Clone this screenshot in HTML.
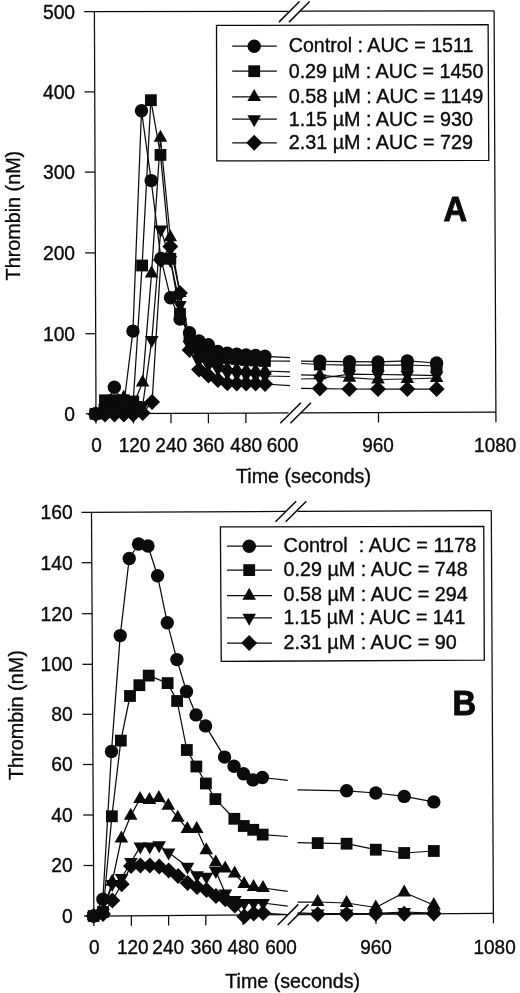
<!DOCTYPE html>
<html><head><meta charset="utf-8"><title>Thrombin generation</title>
<style>html,body{margin:0;padding:0;background:#fff;overflow:hidden;}svg{display:block;}text{font-family:"Liberation Sans",sans-serif;fill:#0b0b0b;stroke:#0b0b0b;stroke-width:0.35px;}svg{will-change:transform;}</style></head><body>
<svg width="520" height="993" viewBox="0 0 520 993">
<rect width="520" height="993" fill="#fff"/>
<line x1="84.20" y1="11.70" x2="288.50" y2="11.26" stroke="#0b0b0b" stroke-width="1.25"/>
<line x1="300.30" y1="11.24" x2="494.10" y2="10.80" stroke="#0b0b0b" stroke-width="1.25"/>
<line x1="96.00" y1="413.60" x2="288.50" y2="412.93" stroke="#0b0b0b" stroke-width="1.25"/>
<line x1="300.30" y1="412.88" x2="495.90" y2="412.20" stroke="#0b0b0b" stroke-width="1.25"/>
<line x1="94.40" y1="11.70" x2="96.04" y2="423.60" stroke="#0b0b0b" stroke-width="1.25"/>
<line x1="494.10" y1="10.80" x2="495.94" y2="422.20" stroke="#0b0b0b" stroke-width="1.25"/>
<line x1="84.52" y1="91.90" x2="94.72" y2="91.90" stroke="#0b0b0b" stroke-width="1.25"/>
<line x1="84.84" y1="172.10" x2="95.04" y2="172.10" stroke="#0b0b0b" stroke-width="1.25"/>
<line x1="85.16" y1="252.90" x2="95.36" y2="252.90" stroke="#0b0b0b" stroke-width="1.25"/>
<line x1="85.48" y1="333.70" x2="95.68" y2="333.70" stroke="#0b0b0b" stroke-width="1.25"/>
<line x1="85.80" y1="413.80" x2="96.00" y2="413.80" stroke="#0b0b0b" stroke-width="1.25"/>
<line x1="133.50" y1="413.47" x2="133.50" y2="423.47" stroke="#0b0b0b" stroke-width="1.25"/>
<line x1="171.00" y1="413.34" x2="171.00" y2="423.34" stroke="#0b0b0b" stroke-width="1.25"/>
<line x1="208.40" y1="413.21" x2="208.40" y2="423.21" stroke="#0b0b0b" stroke-width="1.25"/>
<line x1="245.90" y1="413.08" x2="245.90" y2="423.08" stroke="#0b0b0b" stroke-width="1.25"/>
<line x1="378.50" y1="412.61" x2="378.50" y2="422.61" stroke="#0b0b0b" stroke-width="1.25"/>
<line x1="278.90" y1="22.10" x2="299.50" y2="1.50" stroke="#0b0b0b" stroke-width="1.5"/>
<line x1="289.00" y1="22.10" x2="309.60" y2="1.50" stroke="#0b0b0b" stroke-width="1.5"/>
<line x1="280.30" y1="423.30" x2="300.90" y2="402.70" stroke="#0b0b0b" stroke-width="1.5"/>
<line x1="290.40" y1="423.30" x2="311.00" y2="402.70" stroke="#0b0b0b" stroke-width="1.5"/>
<line x1="81.50" y1="512.30" x2="286.00" y2="511.42" stroke="#0b0b0b" stroke-width="1.25"/>
<line x1="297.50" y1="511.37" x2="491.30" y2="510.50" stroke="#0b0b0b" stroke-width="1.25"/>
<line x1="93.85" y1="916.00" x2="286.00" y2="914.70" stroke="#0b0b0b" stroke-width="1.25"/>
<line x1="297.50" y1="914.62" x2="493.40" y2="913.30" stroke="#0b0b0b" stroke-width="1.25"/>
<line x1="91.50" y1="512.30" x2="93.91" y2="926.00" stroke="#0b0b0b" stroke-width="1.25"/>
<line x1="491.30" y1="510.50" x2="493.45" y2="923.30" stroke="#0b0b0b" stroke-width="1.25"/>
<line x1="81.79" y1="562.70" x2="91.79" y2="562.70" stroke="#0b0b0b" stroke-width="1.25"/>
<line x1="82.09" y1="613.70" x2="92.09" y2="613.70" stroke="#0b0b0b" stroke-width="1.25"/>
<line x1="82.38" y1="664.30" x2="92.38" y2="664.30" stroke="#0b0b0b" stroke-width="1.25"/>
<line x1="82.68" y1="714.30" x2="92.68" y2="714.30" stroke="#0b0b0b" stroke-width="1.25"/>
<line x1="82.97" y1="764.50" x2="92.97" y2="764.50" stroke="#0b0b0b" stroke-width="1.25"/>
<line x1="83.26" y1="815.00" x2="93.26" y2="815.00" stroke="#0b0b0b" stroke-width="1.25"/>
<line x1="83.56" y1="865.50" x2="93.56" y2="865.50" stroke="#0b0b0b" stroke-width="1.25"/>
<line x1="83.85" y1="916.00" x2="93.85" y2="916.00" stroke="#0b0b0b" stroke-width="1.25"/>
<line x1="131.40" y1="915.75" x2="131.40" y2="925.75" stroke="#0b0b0b" stroke-width="1.25"/>
<line x1="168.60" y1="915.49" x2="168.60" y2="925.49" stroke="#0b0b0b" stroke-width="1.25"/>
<line x1="205.80" y1="915.24" x2="205.80" y2="925.24" stroke="#0b0b0b" stroke-width="1.25"/>
<line x1="243.00" y1="914.99" x2="243.00" y2="924.99" stroke="#0b0b0b" stroke-width="1.25"/>
<line x1="376.00" y1="914.09" x2="376.00" y2="924.09" stroke="#0b0b0b" stroke-width="1.25"/>
<line x1="275.50" y1="521.80" x2="296.10" y2="501.20" stroke="#0b0b0b" stroke-width="1.5"/>
<line x1="285.70" y1="521.80" x2="306.30" y2="501.20" stroke="#0b0b0b" stroke-width="1.5"/>
<line x1="277.70" y1="925.00" x2="298.30" y2="904.40" stroke="#0b0b0b" stroke-width="1.5"/>
<line x1="287.80" y1="925.00" x2="308.40" y2="904.40" stroke="#0b0b0b" stroke-width="1.5"/>
<rect x="100" y="401" width="42" height="11" fill="#0b0b0b"/>
<polyline points="95.60,413.80 104.99,407.00 114.33,387.30 123.82,405.00 132.95,331.10 141.49,110.80 151.19,180.60 160.92,258.50 170.50,297.70 180.00,319.00 189.48,332.80 198.93,341.00 208.36,344.70 217.81,351.50 227.24,353.30 236.66,354.20 246.08,355.00 255.51,355.50 264.93,356.30 290.00,357.60" fill="none" stroke="#0b0b0b" stroke-width="1.25" stroke-linejoin="round"/>
<polyline points="301.00,361.20 319.80,361.30 349.40,361.70 378.00,361.90 407.30,360.90 436.60,363.00" fill="none" stroke="#0b0b0b" stroke-width="1.25" stroke-linejoin="round"/>
<polyline points="95.60,413.80 104.97,400.30 114.39,400.20 123.81,400.30 133.23,401.50 142.11,265.50 150.87,100.20 160.50,154.90 170.34,258.80 179.98,314.00 189.49,337.00 198.95,347.00 208.39,351.00 217.83,356.00 227.26,358.00 236.68,359.00 246.10,360.00 255.53,360.50 264.95,361.00 290.00,361.20" fill="none" stroke="#0b0b0b" stroke-width="1.25" stroke-linejoin="round"/>
<polyline points="301.00,363.50 319.80,364.50 349.40,365.20 378.00,365.20 407.30,365.00 436.60,366.00" fill="none" stroke="#0b0b0b" stroke-width="1.25" stroke-linejoin="round"/>
<polyline points="95.60,413.80 104.99,406.00 114.40,405.00 123.80,397.70 133.24,405.00 142.58,382.60 151.56,273.40 160.44,137.80 170.25,237.30 179.90,293.00 189.50,338.00 198.98,353.00 208.42,358.00 217.86,363.00 227.30,368.00 236.72,369.00 246.14,370.00 255.57,370.50 264.99,371.00 290.00,371.80" fill="none" stroke="#0b0b0b" stroke-width="1.25" stroke-linejoin="round"/>
<polyline points="301.00,374.80 319.80,375.30 349.40,377.70 378.00,379.50 407.30,379.00 436.60,378.00" fill="none" stroke="#0b0b0b" stroke-width="1.25" stroke-linejoin="round"/>
<polyline points="95.60,413.80 105.00,408.00 114.41,407.50 123.83,407.00 133.25,406.00 142.67,405.50 151.82,340.00 160.80,229.40 170.34,260.00 179.94,305.00 189.52,345.00 199.00,360.00 208.44,365.00 217.88,369.00 227.32,373.00 236.74,374.00 246.16,375.00 255.59,375.50 265.01,376.00 290.00,376.50" fill="none" stroke="#0b0b0b" stroke-width="1.25" stroke-linejoin="round"/>
<polyline points="301.00,379.00 319.80,378.50 349.40,374.20 378.00,374.50 407.30,374.80 436.60,375.60" fill="none" stroke="#0b0b0b" stroke-width="1.25" stroke-linejoin="round"/>
<polyline points="95.60,414.30 105.02,414.50 114.44,414.50 123.86,414.50 133.28,414.50 142.70,413.00 152.07,402.00 160.92,260.00 170.29,246.40 179.90,293.00 189.54,350.00 199.04,369.50 208.49,375.50 217.92,380.00 227.36,383.20 236.78,383.50 246.20,383.50 255.62,383.50 265.04,384.00 290.00,385.70" fill="none" stroke="#0b0b0b" stroke-width="1.25" stroke-linejoin="round"/>
<polyline points="301.00,388.40 319.80,388.50 349.40,389.00 378.00,389.00 407.30,389.00 436.60,389.00" fill="none" stroke="#0b0b0b" stroke-width="1.25" stroke-linejoin="round"/>
<g fill="#0b0b0b">
<circle cx="95.60" cy="413.80" r="6.7"/>
<circle cx="104.99" cy="407.00" r="6.7"/>
<circle cx="114.33" cy="387.30" r="6.7"/>
<circle cx="123.82" cy="405.00" r="6.7"/>
<circle cx="132.95" cy="331.10" r="6.7"/>
<circle cx="141.49" cy="110.80" r="6.7"/>
<circle cx="151.19" cy="180.60" r="6.7"/>
<circle cx="160.92" cy="258.50" r="6.7"/>
<circle cx="170.50" cy="297.70" r="6.7"/>
<circle cx="180.00" cy="319.00" r="6.7"/>
<circle cx="189.48" cy="332.80" r="6.7"/>
<circle cx="198.93" cy="341.00" r="6.7"/>
<circle cx="208.36" cy="344.70" r="6.7"/>
<circle cx="217.81" cy="351.50" r="6.7"/>
<circle cx="227.24" cy="353.30" r="6.7"/>
<circle cx="236.66" cy="354.20" r="6.7"/>
<circle cx="246.08" cy="355.00" r="6.7"/>
<circle cx="255.51" cy="355.50" r="6.7"/>
<circle cx="264.93" cy="356.30" r="6.7"/>
<circle cx="319.80" cy="361.30" r="6.7"/>
<circle cx="349.40" cy="361.70" r="6.7"/>
<circle cx="378.00" cy="361.90" r="6.7"/>
<circle cx="407.30" cy="360.90" r="6.7"/>
<circle cx="436.60" cy="363.00" r="6.7"/>
<rect x="89.70" y="407.90" width="11.8" height="11.8"/>
<rect x="99.07" y="394.40" width="11.8" height="11.8"/>
<rect x="108.49" y="394.30" width="11.8" height="11.8"/>
<rect x="117.91" y="394.40" width="11.8" height="11.8"/>
<rect x="127.33" y="395.60" width="11.8" height="11.8"/>
<rect x="136.21" y="259.60" width="11.8" height="11.8"/>
<rect x="144.97" y="94.30" width="11.8" height="11.8"/>
<rect x="154.60" y="149.00" width="11.8" height="11.8"/>
<rect x="164.44" y="252.90" width="11.8" height="11.8"/>
<rect x="174.08" y="308.10" width="11.8" height="11.8"/>
<rect x="183.59" y="331.10" width="11.8" height="11.8"/>
<rect x="193.05" y="341.10" width="11.8" height="11.8"/>
<rect x="202.49" y="345.10" width="11.8" height="11.8"/>
<rect x="211.93" y="350.10" width="11.8" height="11.8"/>
<rect x="221.36" y="352.10" width="11.8" height="11.8"/>
<rect x="230.78" y="353.10" width="11.8" height="11.8"/>
<rect x="240.20" y="354.10" width="11.8" height="11.8"/>
<rect x="249.63" y="354.60" width="11.8" height="11.8"/>
<rect x="259.05" y="355.10" width="11.8" height="11.8"/>
<rect x="313.90" y="358.60" width="11.8" height="11.8"/>
<rect x="343.50" y="359.30" width="11.8" height="11.8"/>
<rect x="372.10" y="359.30" width="11.8" height="11.8"/>
<rect x="401.40" y="359.10" width="11.8" height="11.8"/>
<rect x="430.70" y="360.10" width="11.8" height="11.8"/>
<polygon points="95.60,405.80 102.40,417.80 88.80,417.80"/>
<polygon points="104.99,398.00 111.79,410.00 98.19,410.00"/>
<polygon points="114.40,397.00 121.20,409.00 107.60,409.00"/>
<polygon points="123.80,389.70 130.60,401.70 117.00,401.70"/>
<polygon points="133.24,397.00 140.04,409.00 126.44,409.00"/>
<polygon points="142.58,374.60 149.38,386.60 135.78,386.60"/>
<polygon points="151.56,265.40 158.36,277.40 144.76,277.40"/>
<polygon points="160.44,129.80 167.24,141.80 153.64,141.80"/>
<polygon points="170.25,229.30 177.05,241.30 163.45,241.30"/>
<polygon points="179.90,285.00 186.70,297.00 173.10,297.00"/>
<polygon points="189.50,330.00 196.30,342.00 182.70,342.00"/>
<polygon points="198.98,345.00 205.78,357.00 192.18,357.00"/>
<polygon points="208.42,350.00 215.22,362.00 201.62,362.00"/>
<polygon points="217.86,355.00 224.66,367.00 211.06,367.00"/>
<polygon points="227.30,360.00 234.10,372.00 220.50,372.00"/>
<polygon points="236.72,361.00 243.52,373.00 229.92,373.00"/>
<polygon points="246.14,362.00 252.94,374.00 239.34,374.00"/>
<polygon points="255.57,362.50 262.37,374.50 248.77,374.50"/>
<polygon points="264.99,363.00 271.79,375.00 258.19,375.00"/>
<polygon points="319.80,367.30 326.60,379.30 313.00,379.30"/>
<polygon points="349.40,369.70 356.20,381.70 342.60,381.70"/>
<polygon points="378.00,371.50 384.80,383.50 371.20,383.50"/>
<polygon points="407.30,371.00 414.10,383.00 400.50,383.00"/>
<polygon points="436.60,370.00 443.40,382.00 429.80,382.00"/>
<polygon points="88.80,409.80 102.40,409.80 95.60,421.80"/>
<polygon points="98.20,404.00 111.80,404.00 105.00,416.00"/>
<polygon points="107.61,403.50 121.21,403.50 114.41,415.50"/>
<polygon points="117.03,403.00 130.63,403.00 123.83,415.00"/>
<polygon points="126.45,402.00 140.05,402.00 133.25,414.00"/>
<polygon points="135.87,401.50 149.47,401.50 142.67,413.50"/>
<polygon points="145.02,336.00 158.62,336.00 151.82,348.00"/>
<polygon points="154.00,225.40 167.60,225.40 160.80,237.40"/>
<polygon points="163.54,256.00 177.14,256.00 170.34,268.00"/>
<polygon points="173.14,301.00 186.74,301.00 179.94,313.00"/>
<polygon points="182.72,341.00 196.32,341.00 189.52,353.00"/>
<polygon points="192.20,356.00 205.80,356.00 199.00,368.00"/>
<polygon points="201.64,361.00 215.24,361.00 208.44,373.00"/>
<polygon points="211.08,365.00 224.68,365.00 217.88,377.00"/>
<polygon points="220.52,369.00 234.12,369.00 227.32,381.00"/>
<polygon points="229.94,370.00 243.54,370.00 236.74,382.00"/>
<polygon points="239.36,371.00 252.96,371.00 246.16,383.00"/>
<polygon points="248.79,371.50 262.39,371.50 255.59,383.50"/>
<polygon points="258.21,372.00 271.81,372.00 265.01,384.00"/>
<polygon points="313.00,374.50 326.60,374.50 319.80,386.50"/>
<polygon points="342.60,370.20 356.20,370.20 349.40,382.20"/>
<polygon points="371.20,370.50 384.80,370.50 378.00,382.50"/>
<polygon points="400.50,370.80 414.10,370.80 407.30,382.80"/>
<polygon points="429.80,371.60 443.40,371.60 436.60,383.60"/>
<polygon points="95.60,406.30 103.60,414.30 95.60,422.30 87.60,414.30"/>
<polygon points="105.02,406.50 113.02,414.50 105.02,422.50 97.02,414.50"/>
<polygon points="114.44,406.50 122.44,414.50 114.44,422.50 106.44,414.50"/>
<polygon points="123.86,406.50 131.86,414.50 123.86,422.50 115.86,414.50"/>
<polygon points="133.28,406.50 141.28,414.50 133.28,422.50 125.28,414.50"/>
<polygon points="142.70,405.00 150.70,413.00 142.70,421.00 134.70,413.00"/>
<polygon points="152.07,394.00 160.07,402.00 152.07,410.00 144.07,402.00"/>
<polygon points="160.92,252.00 168.92,260.00 160.92,268.00 152.92,260.00"/>
<polygon points="170.29,238.40 178.29,246.40 170.29,254.40 162.29,246.40"/>
<polygon points="179.90,285.00 187.90,293.00 179.90,301.00 171.90,293.00"/>
<polygon points="189.54,342.00 197.54,350.00 189.54,358.00 181.54,350.00"/>
<polygon points="199.04,361.50 207.04,369.50 199.04,377.50 191.04,369.50"/>
<polygon points="208.49,367.50 216.49,375.50 208.49,383.50 200.49,375.50"/>
<polygon points="217.92,372.00 225.92,380.00 217.92,388.00 209.92,380.00"/>
<polygon points="227.36,375.20 235.36,383.20 227.36,391.20 219.36,383.20"/>
<polygon points="236.78,375.50 244.78,383.50 236.78,391.50 228.78,383.50"/>
<polygon points="246.20,375.50 254.20,383.50 246.20,391.50 238.20,383.50"/>
<polygon points="255.62,375.50 263.62,383.50 255.62,391.50 247.62,383.50"/>
<polygon points="265.04,376.00 273.04,384.00 265.04,392.00 257.04,384.00"/>
<polygon points="319.80,380.50 327.80,388.50 319.80,396.50 311.80,388.50"/>
<polygon points="349.40,381.00 357.40,389.00 349.40,397.00 341.40,389.00"/>
<polygon points="378.00,381.00 386.00,389.00 378.00,397.00 370.00,389.00"/>
<polygon points="407.30,381.00 415.30,389.00 407.30,397.00 399.30,389.00"/>
<polygon points="436.60,381.00 444.60,389.00 436.60,397.00 428.60,389.00"/>
</g>
<polyline points="93.60,916.00 102.92,899.30 111.49,751.50 120.23,635.60 129.21,558.50 138.54,544.00 147.97,546.00 157.57,575.80 167.26,622.70 176.89,659.60 186.50,691.50 196.05,714.90 205.54,725.90 224.56,757.10 234.03,766.30 243.49,773.70 252.95,779.90 262.36,777.50 287.70,780.30" fill="none" stroke="#0b0b0b" stroke-width="1.25" stroke-linejoin="round"/>
<polyline points="297.50,789.80 346.60,790.80 375.80,793.00 404.20,796.40 433.80,801.90" fill="none" stroke="#0b0b0b" stroke-width="1.25" stroke-linejoin="round"/>
<polyline points="93.60,916.00 103.00,912.00 111.86,816.30 120.84,740.60 130.00,696.00 139.36,685.20 148.73,675.60 167.61,683.10 177.13,701.00 186.84,750.00 196.35,766.50 205.87,783.50 215.38,799.10 234.34,818.80 243.80,826.00 253.24,829.80 262.69,834.60 287.70,836.50" fill="none" stroke="#0b0b0b" stroke-width="1.25" stroke-linejoin="round"/>
<polyline points="297.50,842.70 317.70,843.10 346.60,843.70 375.80,849.70 404.20,853.00 433.80,851.00" fill="none" stroke="#0b0b0b" stroke-width="1.25" stroke-linejoin="round"/>
<polyline points="93.60,916.00 103.00,912.50 112.24,881.70 121.41,838.50 130.70,815.80 140.02,798.90 149.45,800.00 158.86,798.00 168.32,805.80 177.81,817.70 187.30,829.00 196.72,829.00 206.26,850.30 215.75,862.50 225.20,868.50 234.65,873.50 244.13,884.00 253.57,887.00 263.00,888.00 287.70,891.30" fill="none" stroke="#0b0b0b" stroke-width="1.25" stroke-linejoin="round"/>
<polyline points="297.50,902.00 317.70,902.00 346.60,903.00 375.80,907.50 404.20,892.50 433.80,905.00" fill="none" stroke="#0b0b0b" stroke-width="1.25" stroke-linejoin="round"/>
<polyline points="93.60,916.00 103.00,913.00 112.25,884.00 121.64,878.00 130.97,862.00 140.30,846.60 149.72,846.60 159.13,845.20 168.59,852.40 187.51,866.80 196.98,875.30 206.41,876.80 215.80,871.00 225.35,893.50 234.81,900.00 244.24,903.00 253.66,903.00 263.08,903.00 287.70,906.20" fill="none" stroke="#0b0b0b" stroke-width="1.25" stroke-linejoin="round"/>
<polyline points="297.50,912.80 317.70,913.60 346.60,913.60 375.80,913.40 404.20,912.00 433.80,913.20" fill="none" stroke="#0b0b0b" stroke-width="1.25" stroke-linejoin="round"/>
<polyline points="93.60,916.00 103.01,914.00 112.35,900.50 121.68,884.20 130.99,866.00 140.41,865.40 149.83,865.40 159.25,866.40 168.70,870.50 178.15,876.00 187.61,883.00 197.05,887.00 206.49,890.00 215.94,896.00 225.38,899.20 234.84,905.40 244.32,916.40 253.73,913.50 263.14,913.00 287.70,914.60" fill="none" stroke="#0b0b0b" stroke-width="1.25" stroke-linejoin="round"/>
<polyline points="297.50,914.20 317.70,914.20 346.60,914.00 375.80,913.80 404.20,913.70 433.80,913.60" fill="none" stroke="#0b0b0b" stroke-width="1.25" stroke-linejoin="round"/>
<g fill="#0b0b0b">
<circle cx="93.60" cy="916.00" r="6.7"/>
<circle cx="102.92" cy="899.30" r="6.7"/>
<circle cx="111.49" cy="751.50" r="6.7"/>
<circle cx="120.23" cy="635.60" r="6.7"/>
<circle cx="129.21" cy="558.50" r="6.7"/>
<circle cx="138.54" cy="544.00" r="6.7"/>
<circle cx="147.97" cy="546.00" r="6.7"/>
<circle cx="157.57" cy="575.80" r="6.7"/>
<circle cx="167.26" cy="622.70" r="6.7"/>
<circle cx="176.89" cy="659.60" r="6.7"/>
<circle cx="186.50" cy="691.50" r="6.7"/>
<circle cx="196.05" cy="714.90" r="6.7"/>
<circle cx="205.54" cy="725.90" r="6.7"/>
<circle cx="224.56" cy="757.10" r="6.7"/>
<circle cx="234.03" cy="766.30" r="6.7"/>
<circle cx="243.49" cy="773.70" r="6.7"/>
<circle cx="252.95" cy="779.90" r="6.7"/>
<circle cx="262.36" cy="777.50" r="6.7"/>
<circle cx="346.60" cy="790.80" r="6.7"/>
<circle cx="375.80" cy="793.00" r="6.7"/>
<circle cx="404.20" cy="796.40" r="6.7"/>
<circle cx="433.80" cy="801.90" r="6.7"/>
<rect x="87.70" y="910.10" width="11.8" height="11.8"/>
<rect x="97.10" y="906.10" width="11.8" height="11.8"/>
<rect x="105.96" y="810.40" width="11.8" height="11.8"/>
<rect x="114.94" y="734.70" width="11.8" height="11.8"/>
<rect x="124.10" y="690.10" width="11.8" height="11.8"/>
<rect x="133.46" y="679.30" width="11.8" height="11.8"/>
<rect x="142.83" y="669.70" width="11.8" height="11.8"/>
<rect x="161.71" y="677.20" width="11.8" height="11.8"/>
<rect x="171.23" y="695.10" width="11.8" height="11.8"/>
<rect x="180.94" y="744.10" width="11.8" height="11.8"/>
<rect x="190.45" y="760.60" width="11.8" height="11.8"/>
<rect x="199.97" y="777.60" width="11.8" height="11.8"/>
<rect x="209.48" y="793.20" width="11.8" height="11.8"/>
<rect x="228.44" y="812.90" width="11.8" height="11.8"/>
<rect x="237.90" y="820.10" width="11.8" height="11.8"/>
<rect x="247.34" y="823.90" width="11.8" height="11.8"/>
<rect x="256.79" y="828.70" width="11.8" height="11.8"/>
<rect x="311.80" y="837.20" width="11.8" height="11.8"/>
<rect x="340.70" y="837.80" width="11.8" height="11.8"/>
<rect x="369.90" y="843.80" width="11.8" height="11.8"/>
<rect x="398.30" y="847.10" width="11.8" height="11.8"/>
<rect x="427.90" y="845.10" width="11.8" height="11.8"/>
<polygon points="93.60,908.00 100.40,920.00 86.80,920.00"/>
<polygon points="103.00,904.50 109.80,916.50 96.20,916.50"/>
<polygon points="112.24,873.70 119.04,885.70 105.44,885.70"/>
<polygon points="121.41,830.50 128.21,842.50 114.61,842.50"/>
<polygon points="130.70,807.80 137.50,819.80 123.90,819.80"/>
<polygon points="140.02,790.90 146.82,802.90 133.22,802.90"/>
<polygon points="149.45,792.00 156.25,804.00 142.65,804.00"/>
<polygon points="158.86,790.00 165.66,802.00 152.06,802.00"/>
<polygon points="168.32,797.80 175.12,809.80 161.52,809.80"/>
<polygon points="177.81,809.70 184.61,821.70 171.01,821.70"/>
<polygon points="187.30,821.00 194.10,833.00 180.50,833.00"/>
<polygon points="196.72,821.00 203.52,833.00 189.92,833.00"/>
<polygon points="206.26,842.30 213.06,854.30 199.46,854.30"/>
<polygon points="215.75,854.50 222.55,866.50 208.95,866.50"/>
<polygon points="225.20,860.50 232.00,872.50 218.40,872.50"/>
<polygon points="234.65,865.50 241.45,877.50 227.85,877.50"/>
<polygon points="244.13,876.00 250.93,888.00 237.33,888.00"/>
<polygon points="253.57,879.00 260.37,891.00 246.77,891.00"/>
<polygon points="263.00,880.00 269.80,892.00 256.20,892.00"/>
<polygon points="317.70,894.00 324.50,906.00 310.90,906.00"/>
<polygon points="346.60,895.00 353.40,907.00 339.80,907.00"/>
<polygon points="375.80,899.50 382.60,911.50 369.00,911.50"/>
<polygon points="404.20,884.50 411.00,896.50 397.40,896.50"/>
<polygon points="433.80,897.00 440.60,909.00 427.00,909.00"/>
<polygon points="86.80,912.00 100.40,912.00 93.60,924.00"/>
<polygon points="96.20,909.00 109.80,909.00 103.00,921.00"/>
<polygon points="105.45,880.00 119.05,880.00 112.25,892.00"/>
<polygon points="114.84,874.00 128.44,874.00 121.64,886.00"/>
<polygon points="124.17,858.00 137.77,858.00 130.97,870.00"/>
<polygon points="133.50,842.60 147.10,842.60 140.30,854.60"/>
<polygon points="142.92,842.60 156.52,842.60 149.72,854.60"/>
<polygon points="152.33,841.20 165.93,841.20 159.13,853.20"/>
<polygon points="161.79,848.40 175.39,848.40 168.59,860.40"/>
<polygon points="180.71,862.80 194.31,862.80 187.51,874.80"/>
<polygon points="190.18,871.30 203.78,871.30 196.98,883.30"/>
<polygon points="199.61,872.80 213.21,872.80 206.41,884.80"/>
<polygon points="209.00,867.00 222.60,867.00 215.80,879.00"/>
<polygon points="218.55,889.50 232.15,889.50 225.35,901.50"/>
<polygon points="228.01,896.00 241.61,896.00 234.81,908.00"/>
<polygon points="237.44,899.00 251.04,899.00 244.24,911.00"/>
<polygon points="246.86,899.00 260.46,899.00 253.66,911.00"/>
<polygon points="256.28,899.00 269.88,899.00 263.08,911.00"/>
<polygon points="310.90,909.60 324.50,909.60 317.70,921.60"/>
<polygon points="339.80,909.60 353.40,909.60 346.60,921.60"/>
<polygon points="369.00,909.40 382.60,909.40 375.80,921.40"/>
<polygon points="397.40,908.00 411.00,908.00 404.20,920.00"/>
<polygon points="427.00,909.20 440.60,909.20 433.80,921.20"/>
<polygon points="93.60,908.00 101.60,916.00 93.60,924.00 85.60,916.00"/>
<polygon points="103.01,906.00 111.01,914.00 103.01,922.00 95.01,914.00"/>
<polygon points="112.35,892.50 120.35,900.50 112.35,908.50 104.35,900.50"/>
<polygon points="121.68,876.20 129.68,884.20 121.68,892.20 113.68,884.20"/>
<polygon points="130.99,858.00 138.99,866.00 130.99,874.00 122.99,866.00"/>
<polygon points="140.41,857.40 148.41,865.40 140.41,873.40 132.41,865.40"/>
<polygon points="149.83,857.40 157.83,865.40 149.83,873.40 141.83,865.40"/>
<polygon points="159.25,858.40 167.25,866.40 159.25,874.40 151.25,866.40"/>
<polygon points="168.70,862.50 176.70,870.50 168.70,878.50 160.70,870.50"/>
<polygon points="178.15,868.00 186.15,876.00 178.15,884.00 170.15,876.00"/>
<polygon points="187.61,875.00 195.61,883.00 187.61,891.00 179.61,883.00"/>
<polygon points="197.05,879.00 205.05,887.00 197.05,895.00 189.05,887.00"/>
<polygon points="206.49,882.00 214.49,890.00 206.49,898.00 198.49,890.00"/>
<polygon points="215.94,888.00 223.94,896.00 215.94,904.00 207.94,896.00"/>
<polygon points="225.38,891.20 233.38,899.20 225.38,907.20 217.38,899.20"/>
<polygon points="234.84,897.40 242.84,905.40 234.84,913.40 226.84,905.40"/>
<polygon points="244.32,908.40 252.32,916.40 244.32,924.40 236.32,916.40"/>
<polygon points="253.73,905.50 261.73,913.50 253.73,921.50 245.73,913.50"/>
<polygon points="263.14,905.00 271.14,913.00 263.14,921.00 255.14,913.00"/>
<polygon points="317.70,906.20 325.70,914.20 317.70,922.20 309.70,914.20"/>
<polygon points="346.60,906.00 354.60,914.00 346.60,922.00 338.60,914.00"/>
<polygon points="375.80,905.80 383.80,913.80 375.80,921.80 367.80,913.80"/>
<polygon points="404.20,905.70 412.20,913.70 404.20,921.70 396.20,913.70"/>
<polygon points="433.80,905.60 441.80,913.60 433.80,921.60 425.80,913.60"/>
</g>
<polygon points="216.5,25.4 488.1,24.6 488.8,160.3 216.8,160.9" fill="#fff" stroke="#0b0b0b" stroke-width="1.3" stroke-linejoin="miter"/>
<line x1="232.20" y1="46.20" x2="276.80" y2="46.20" stroke="#0b0b0b" stroke-width="1.25"/>
<g fill="#0b0b0b"><circle cx="254.20" cy="46.20" r="6.7"/></g>
<line x1="232.20" y1="71.20" x2="276.80" y2="71.20" stroke="#0b0b0b" stroke-width="1.25"/>
<g fill="#0b0b0b"><rect x="248.30" y="65.30" width="11.8" height="11.8"/></g>
<line x1="232.20" y1="96.90" x2="276.80" y2="96.90" stroke="#0b0b0b" stroke-width="1.25"/>
<g fill="#0b0b0b"><polygon points="254.20,88.90 261.00,100.90 247.40,100.90"/></g>
<line x1="232.20" y1="119.20" x2="276.80" y2="119.20" stroke="#0b0b0b" stroke-width="1.25"/>
<g fill="#0b0b0b"><polygon points="247.40,115.20 261.00,115.20 254.20,127.20"/></g>
<line x1="232.20" y1="142.80" x2="276.80" y2="142.80" stroke="#0b0b0b" stroke-width="1.25"/>
<g fill="#0b0b0b"><polygon points="254.20,134.80 262.20,142.80 254.20,150.80 246.20,142.80"/></g>
<text x="0" y="0" transform="translate(288.70 52.20) scale(1 1.07)" font-size="19" textLength="184.7" lengthAdjust="spacingAndGlyphs">Control : AUC = 1511</text>
<text x="0" y="0" transform="translate(288.70 77.60) scale(1 1.07)" font-size="19" textLength="194.7" lengthAdjust="spacingAndGlyphs">0.29 µM : AUC = 1450</text>
<text x="0" y="0" transform="translate(288.70 102.60) scale(1 1.07)" font-size="19" textLength="194.7" lengthAdjust="spacingAndGlyphs">0.58 µM : AUC = 1149</text>
<text x="0" y="0" transform="translate(288.70 126.10) scale(1 1.07)" font-size="19" textLength="184.3" lengthAdjust="spacingAndGlyphs">1.15 µM : AUC = 930</text>
<text x="0" y="0" transform="translate(288.70 148.80) scale(1 1.07)" font-size="19" textLength="184.3" lengthAdjust="spacingAndGlyphs">2.31 µM : AUC = 729</text>
<polygon points="220.4,526.9 483.75,526.3 484.3,660.2 221.25,661.4" fill="#fff" stroke="#0b0b0b" stroke-width="1.3" stroke-linejoin="miter"/>
<line x1="227.00" y1="546.20" x2="271.90" y2="546.20" stroke="#0b0b0b" stroke-width="1.25"/>
<g fill="#0b0b0b"><circle cx="249.20" cy="546.20" r="6.7"/></g>
<line x1="227.00" y1="570.10" x2="271.90" y2="570.10" stroke="#0b0b0b" stroke-width="1.25"/>
<g fill="#0b0b0b"><rect x="243.30" y="564.20" width="11.8" height="11.8"/></g>
<line x1="227.00" y1="595.70" x2="271.90" y2="595.70" stroke="#0b0b0b" stroke-width="1.25"/>
<g fill="#0b0b0b"><polygon points="249.20,587.70 256.00,599.70 242.40,599.70"/></g>
<line x1="227.00" y1="617.80" x2="271.90" y2="617.80" stroke="#0b0b0b" stroke-width="1.25"/>
<g fill="#0b0b0b"><polygon points="242.40,613.80 256.00,613.80 249.20,625.80"/></g>
<line x1="227.00" y1="643.10" x2="271.90" y2="643.10" stroke="#0b0b0b" stroke-width="1.25"/>
<g fill="#0b0b0b"><polygon points="249.20,635.10 257.20,643.10 249.20,651.10 241.20,643.10"/></g>
<text x="0" y="0" transform="translate(283.50 552.20) scale(1 1.07)" font-size="19" textLength="192.8" lengthAdjust="spacingAndGlyphs">Control&#160;&#160;: AUC = 1178</text>
<text x="0" y="0" transform="translate(283.50 576.40) scale(1 1.07)" font-size="19" textLength="184.3" lengthAdjust="spacingAndGlyphs">0.29 µM : AUC = 748</text>
<text x="0" y="0" transform="translate(283.50 601.30) scale(1 1.07)" font-size="19" textLength="184.3" lengthAdjust="spacingAndGlyphs">0.58 µM : AUC = 294</text>
<text x="0" y="0" transform="translate(283.50 624.00) scale(1 1.07)" font-size="19" textLength="181.8" lengthAdjust="spacingAndGlyphs">1.15 µM : AUC = 141</text>
<text x="0" y="0" transform="translate(283.50 648.90) scale(1 1.07)" font-size="19" textLength="173.1" lengthAdjust="spacingAndGlyphs">2.31 µM : AUC = 90</text>
<text x="0" y="0" transform="translate(75.10 18.60) scale(1 1.06)" font-size="19.3" text-anchor="end">500</text>
<text x="0" y="0" transform="translate(75.10 98.80) scale(1 1.06)" font-size="19.3" text-anchor="end">400</text>
<text x="0" y="0" transform="translate(75.10 179.00) scale(1 1.06)" font-size="19.3" text-anchor="end">300</text>
<text x="0" y="0" transform="translate(75.10 259.80) scale(1 1.06)" font-size="19.3" text-anchor="end">200</text>
<text x="0" y="0" transform="translate(75.10 340.60) scale(1 1.06)" font-size="19.3" text-anchor="end">100</text>
<text x="0" y="0" transform="translate(75.10 420.70) scale(1 1.06)" font-size="19.3" text-anchor="end">0</text>
<text x="0" y="0" transform="translate(72.70 519.30) scale(1 1.06)" font-size="19.3" text-anchor="end">160</text>
<text x="0" y="0" transform="translate(72.70 569.60) scale(1 1.06)" font-size="19.3" text-anchor="end">140</text>
<text x="0" y="0" transform="translate(72.70 620.60) scale(1 1.06)" font-size="19.3" text-anchor="end">120</text>
<text x="0" y="0" transform="translate(72.70 671.20) scale(1 1.06)" font-size="19.3" text-anchor="end">100</text>
<text x="0" y="0" transform="translate(72.70 721.20) scale(1 1.06)" font-size="19.3" text-anchor="end">80</text>
<text x="0" y="0" transform="translate(72.70 771.40) scale(1 1.06)" font-size="19.3" text-anchor="end">60</text>
<text x="0" y="0" transform="translate(72.70 821.90) scale(1 1.06)" font-size="19.3" text-anchor="end">40</text>
<text x="0" y="0" transform="translate(72.70 872.40) scale(1 1.06)" font-size="19.3" text-anchor="end">20</text>
<text x="0" y="0" transform="translate(72.70 922.90) scale(1 1.06)" font-size="19.3" text-anchor="end">0</text>
<text x="0" y="0" transform="translate(96.50 451.60) scale(1 1.07)" font-size="19" text-anchor="middle">0</text>
<text x="0" y="0" transform="translate(134.50 451.60) scale(1 1.07)" font-size="19" text-anchor="middle">120</text>
<text x="0" y="0" transform="translate(171.20 451.60) scale(1 1.07)" font-size="19" text-anchor="middle">240</text>
<text x="0" y="0" transform="translate(208.50 451.60) scale(1 1.07)" font-size="19" text-anchor="middle">360</text>
<text x="0" y="0" transform="translate(246.20 451.60) scale(1 1.07)" font-size="19" text-anchor="middle">480</text>
<text x="0" y="0" transform="translate(282.50 451.60) scale(1 1.07)" font-size="19" text-anchor="middle">600</text>
<text x="0" y="0" transform="translate(378.00 451.60) scale(1 1.07)" font-size="19" text-anchor="middle">960</text>
<text x="0" y="0" transform="translate(495.20 451.60) scale(1 1.07)" font-size="19" text-anchor="middle">1080</text>
<text x="0" y="0" transform="translate(94.30 954.00) scale(1 1.07)" font-size="19" text-anchor="middle">0</text>
<text x="0" y="0" transform="translate(132.80 954.00) scale(1 1.07)" font-size="19" text-anchor="middle">120</text>
<text x="0" y="0" transform="translate(168.20 954.00) scale(1 1.07)" font-size="19" text-anchor="middle">240</text>
<text x="0" y="0" transform="translate(206.50 954.00) scale(1 1.07)" font-size="19" text-anchor="middle">360</text>
<text x="0" y="0" transform="translate(243.30 954.00) scale(1 1.07)" font-size="19" text-anchor="middle">480</text>
<text x="0" y="0" transform="translate(281.00 954.00) scale(1 1.07)" font-size="19" text-anchor="middle">600</text>
<text x="0" y="0" transform="translate(376.00 954.00) scale(1 1.07)" font-size="19" text-anchor="middle">960</text>
<text x="0" y="0" transform="translate(494.60 954.00) scale(1 1.07)" font-size="19" text-anchor="middle">1080</text>
<text x="236.00" y="482.90" font-size="19.4" textLength="135.0" lengthAdjust="spacingAndGlyphs">Time (seconds)</text>
<text x="225.30" y="988.00" font-size="19.4" textLength="134.8" lengthAdjust="spacingAndGlyphs">Time (seconds)</text>
<text x="0" y="0" font-size="19.4" textLength="129.6" lengthAdjust="spacingAndGlyphs" transform="translate(19.6 280.4) rotate(-90)">Thrombin (nM)</text>
<text x="0" y="0" font-size="19.4" textLength="129.8" lengthAdjust="spacingAndGlyphs" transform="translate(23.0 780.0) rotate(-90)">Thrombin (nM)</text>
<text x="443.60" y="220.60" font-size="35" textLength="23.6" lengthAdjust="spacingAndGlyphs" font-weight="bold" style="stroke-width:0.9px">A</text>
<text x="452.40" y="715.10" font-size="35" textLength="23.6" lengthAdjust="spacingAndGlyphs" font-weight="bold" style="stroke-width:0.9px">B</text>
</svg></body></html>
